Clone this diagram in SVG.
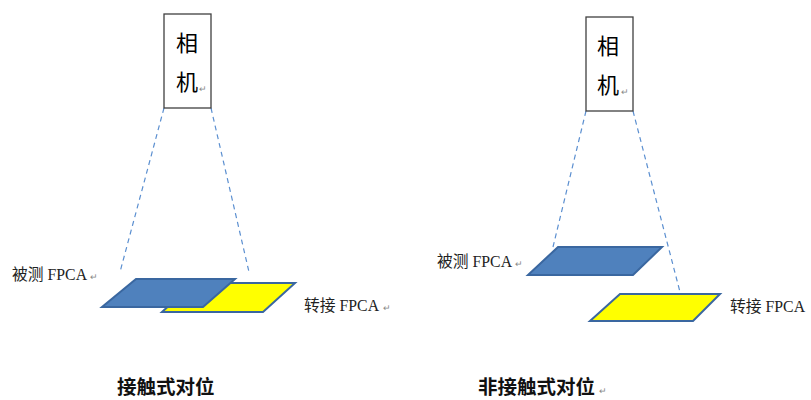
<svg xmlns="http://www.w3.org/2000/svg" width="811" height="400" viewBox="0 0 811 400">
<style>
.cam{fill:#fff;stroke:#404040;stroke-width:1.3}
.camt{font-family:"Noto Sans CJK SC","Liberation Sans",sans-serif;font-size:22px;fill:#000;text-anchor:middle}
.lbl{font-family:"Liberation Serif","Noto Sans CJK SC",serif;font-size:15.8px;fill:#222}
.ttl{font-family:"Noto Sans CJK SC",sans-serif;font-size:19.5px;font-weight:bold;fill:#111}
.pm{font-family:"Liberation Sans",sans-serif;font-size:9px;fill:#888}
.dash{stroke:#5b8fd0;stroke-width:1.2;stroke-dasharray:5,4;fill:none}
.blue{fill:#4f81bd;stroke:#3a67a0;stroke-width:2}
.yel{fill:#ffff00;stroke:#3a67a0;stroke-width:2}
</style>
<rect width="811" height="400" fill="#fff"/>
<g id="connectors">
<line class="dash" x1="164" y1="108" x2="120" y2="272"/>
<line class="dash" x1="211" y1="108" x2="249" y2="272"/>
<line class="dash" x1="586" y1="111" x2="553" y2="247"/>
<line class="dash" x1="633" y1="111" x2="680" y2="292"/>
</g>
<g id="camera-left">
<rect class="cam" x="164" y="14" width="47" height="94"/>
<text class="camt" x="187" y="51">相</text>
<text class="camt" x="187" y="90">机</text>
<text class="pm" x="199" y="92">↵</text>
</g>
<g id="camera-right">
<rect class="cam" x="586" y="17" width="47" height="94"/>
<text class="camt" x="608" y="54">相</text>
<text class="camt" x="608" y="93">机</text>
<text class="pm" x="621" y="95">↵</text>
</g>
<g id="adapter-left">
<polygon class="yel" points="194,283 295,283 263,312 162,312"/>
</g>
<g id="dut-left">
<polygon class="blue" points="136,279 235,279 203,307 102,307"/>
</g>
<g id="dut-right">
<polygon class="blue" points="558,247 662,247 633,275 528,275"/>
</g>
<g id="adapter-right">
<polygon class="yel" points="620,294 720,294 693,321 590,321"/>
</g>
<g id="labels">
<text class="lbl" x="12" y="280">被测 FPCA</text><text class="pm" x="90" y="280">↵</text>
<text class="lbl" x="304" y="311">转接 FPCA</text><text class="pm" x="383" y="311">↵</text>
<text class="lbl" x="437" y="267">被测 FPCA</text><text class="pm" x="515" y="267">↵</text>
<text class="lbl" x="730" y="312">转接 FPCA</text>
<text class="ttl" x="117" y="394">接触式对位</text>
<text class="ttl" x="478" y="394">非接触式对位</text><text class="pm" x="599" y="394">↵</text>
</g>
</svg>
